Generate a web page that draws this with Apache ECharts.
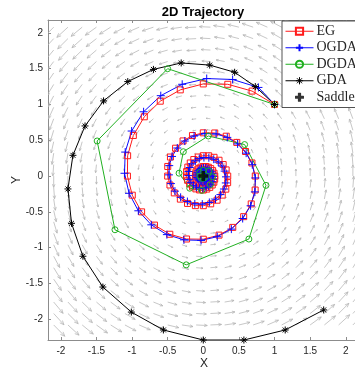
<!DOCTYPE html>
<html>
<head>
<meta charset="utf-8">
<script src="https://cdn.jsdelivr.net/npm/echarts@6/dist/echarts.min.js"></script>
<style>
html, body { margin: 0; padding: 0; background: #fff; }
#chart { width: 355px; height: 371px; }
</style>
</head>
<body>
<div id="chart"></div>
<script>
// tick labels on both axes
const ticks = [-2, -1.5, -1, -0.5, 0, 0.5, 1, 1.5, 2];

// trajectories (x, y)
const egPts = [
  [1, 1], [0.685, 1.187], [0.344, 1.282], [0, 1.287], [-0.323, 1.204], [-0.604, 1.046],
  [-0.828, 0.828], [-0.982, 0.567], [-1.062, 0.284], [-1.065, 0], [-0.997, -0.267], [-0.866, -0.5],
  [-0.685, -0.685], [-0.47, -0.813], [-0.235, -0.879], [0, -0.882], [0.221, -0.825], [0.414, -0.717],
  [0.567, -0.567], [0.673, -0.389], [0.728, -0.195], [0.73, 0], [0.683, 0.183], [0.593, 0.343],
  [0.47, 0.47], [0.322, 0.557], [0.161, 0.602], [0, 0.604], [-0.152, 0.566], [-0.284, 0.491],
  [-0.389, 0.389], [-0.461, 0.266], [-0.499, 0.134], [-0.5, 0], [-0.468, -0.125], [-0.407, -0.235],
  [-0.322, -0.322], [-0.221, -0.382], [-0.111, -0.413], [0, -0.414], [0.104, -0.388], [0.194, -0.337],
  [0.266, -0.266], [0.316, -0.183], [0.342, -0.092], [0.343, 0], [0.321, 0.086], [0.279, 0.161],
  [0.221, 0.221], [0.151, 0.262], [0.076, 0.283], [0, 0.284], [-0.071, 0.266], [-0.133, 0.231],
  [-0.183, 0.183], [-0.217, 0.125], [-0.234, 0.063], [-0.235, 0], [-0.22, -0.059], [-0.191, -0.11],
  [-0.151, -0.151], [-0.104, -0.179], [-0.052, -0.194], [0, -0.195], [0.049, -0.182], [0.091, -0.158],
  [0.125, -0.125], [0.148, -0.086], [0.16, -0.043], [0.161, 0], [0.151, 0.04], [0.131, 0.076],
  [0.104, 0.104], [0.071, 0.123], [0.036, 0.133], [0, 0.133], [-0.033, 0.125], [-0.063, 0.108],
  [-0.086, 0.086], [-0.102, 0.059], [-0.11, 0.029], [-0.11, 0], [-0.103, -0.028], [-0.09, -0.052],
  [-0.071, -0.071], [-0.049, -0.084], [-0.024, -0.091], [0, -0.091], [0.023, -0.085], [0.043, -0.074],
  [0.059, -0.059], [0.07, -0.04], [0.075, -0.02], [0.076, 0], [0.071, 0.019], [0.061, 0.036],
  [0.049, 0.049], [0.033, 0.058], [0.017, 0.062], [0, 0.063], [-0.016, 0.059]
];

const ogdaPts = [
  [1, 1], [0.774, 1.238], [0.412, 1.349], [0.048, 1.362], [-0.296, 1.282], [-0.597, 1.123],
  [-0.838, 0.898], [-1.006, 0.629], [-1.096, 0.335], [-1.106, 0.039], [-1.042, -0.241], [-0.912, -0.485],
  [-0.73, -0.681], [-0.511, -0.818], [-0.272, -0.891], [-0.031, -0.899], [0.196, -0.847], [0.394, -0.741],
  [0.553, -0.593], [0.664, -0.415], [0.724, -0.221], [0.731, -0.026], [0.688, 0.159], [0.602, 0.32],
  [0.482, 0.449], [0.337, 0.54], [0.18, 0.588], [0.021, 0.594], [-0.129, 0.559], [-0.26, 0.489],
  [-0.365, 0.392], [-0.439, 0.274], [-0.478, 0.146], [-0.482, 0.017], [-0.454, -0.105], [-0.398, -0.211],
  [-0.318, -0.297], [-0.223, -0.356], [-0.119, -0.388], [-0.014, -0.392], [0.085, -0.369], [0.172, -0.323],
  [0.241, -0.259], [0.29, -0.181], [0.316, -0.096], [0.319, -0.011], [0.3, 0.069], [0.263, 0.14],
  [0.21, 0.196], [0.147, 0.235], [0.078, 0.256], [0.009, 0.259], [-0.056, 0.244], [-0.113, 0.213],
  [-0.159, 0.171], [-0.191, 0.119], [-0.208, 0.064], [-0.21, 0.007], [-0.198, -0.046], [-0.173, -0.092],
  [-0.139, -0.129], [-0.097, -0.155], [-0.052, -0.169], [-0.006, -0.171], [0.037, -0.161], [0.075, -0.141],
  [0.105, -0.113], [0.126, -0.079], [0.138, -0.042], [0.139, -0.005], [0.131, 0.03], [0.115, 0.061],
  [0.092, 0.085], [0.064, 0.103], [0.034, 0.112], [0.004, 0.113], [-0.025, 0.106], [-0.049, 0.093],
  [-0.069, 0.074], [-0.083, 0.052], [-0.091, 0.028], [-0.092, 0.003], [-0.086, -0.02], [-0.076, -0.04],
  [-0.06, -0.056], [-0.042, -0.068], [-0.023, -0.074], [-0.003, -0.074], [0.016, -0.07], [0.033, -0.061],
  [0.046, -0.049], [0.055, -0.034], [0.06, -0.018], [0.061, -0.002], [0.057, 0.013], [0.05, 0.027],
  [0.04, 0.037], [0.028, 0.045], [0.015, 0.049], [0.002, 0.049], [-0.011, 0.046]
];

const dgdaPts = [
  [1, 1], [-0.5, 1.5], [-1.49, 0.49], [-1.24, -0.75], [-0.24, -1.24], [0.64, -0.88],
  [0.88, -0.13], [0.58, 0.44], [0.07, 0.56], [-0.28, 0.34], [-0.34, 0.04], [-0.19, -0.17],
  [-0.02, -0.2], [0.1, -0.12], [0.13, -0.01], [0.08, 0.07], [0, 0.08], [-0.05, 0.05],
  [-0.05, 0], [-0.03, -0.03], [0, -0.03], [0.02, -0.02]
];

const gdaPts = [
  [1, 1], [0.73, 1.25], [0.44, 1.45], [0.09, 1.55], [-0.31, 1.58], [-0.7, 1.49],
  [-1.06, 1.32], [-1.4, 1.05], [-1.66, 0.7], [-1.83, 0.29], [-1.9, -0.18], [-1.85, -0.66],
  [-1.69, -1.12], [-1.41, -1.55], [-1.01, -1.9], [-0.56, -2.15], [0, -2.29], [0.57, -2.29],
  [1.15, -2.15], [1.69, -1.87]
];

const saddlePt = [[0, 0]];

// quiver grid of the background field
const quiverX = [-2.1, -1.9, -1.7, -1.5, -1.3, -1.1, -0.9, -0.7, -0.5, -0.3, -0.1,
  0.1, 0.3, 0.5, 0.7, 0.9, 1.1, 1.3, 1.5, 1.7, 1.9, 2.1];
const quiverY = [-2.08, -1.92, -1.76, -1.6, -1.44, -1.28, -1.12, -0.96, -0.8, -0.64, -0.48, -0.32, -0.16,
  0, 0.16, 0.32, 0.48, 0.64, 0.8, 0.96, 1.12, 1.28, 1.44, 1.6, 1.76, 1.92, 2.08];
const qScale = 0.075;

const quiverData = [];
quiverX.forEach((x) => {
  quiverY.forEach((y) => {
    quiverData.push([x, y, -y, x]); // field of the bilinear game
  });
});

const plusPath = 'path://M5,0L5,10M0,5L10,5';
const starPath = 'path://M5,0L5,10M0,5L10,5M1.5,1.5L8.5,8.5M8.5,1.5L1.5,8.5';
const crossPath = 'path://M3.2,0.6Q3.2,0,3.8,0L6.2,0Q6.8,0,6.8,0.6L6.8,3.2L9.4,3.2Q10,3.2,10,3.8L10,6.2Q10,6.8,9.4,6.8L6.8,6.8L6.8,9.4Q6.8,10,6.2,10L3.8,10Q3.2,10,3.2,9.4L3.2,6.8L0.6,6.8Q0,6.8,0,6.2L0,3.8Q0,3.2,0.6,3.2L3.2,3.2Z';

function renderArrow(params, api) {
  const x = api.value(0);
  const y = api.value(1);
  const p0 = api.coord([x, y]);
  const p1 = api.coord([x + api.value(2) * qScale, y + api.value(3) * qScale]);
  const dx = p1[0] - p0[0];
  const dy = p1[1] - p0[1];
  const len = Math.hypot(dx, dy);
  if (len < 0.6) return null;
  const ang = Math.atan2(dy, dx);
  const h = len * 0.3;
  const a = 0.4;
  const l = [p1[0] - h * Math.cos(ang - a), p1[1] - h * Math.sin(ang - a)];
  const r = [p1[0] - h * Math.cos(ang + a), p1[1] - h * Math.sin(ang + a)];
  const st = { stroke: '#b4b4b4', lineWidth: 0.75, fill: null };
  return {
    type: 'group',
    children: [
      { type: 'line', shape: { x1: p0[0], y1: p0[1], x2: p1[0], y2: p1[1] }, style: st },
      { type: 'polyline', shape: { points: [l, p1, r] }, style: st },
    ],
  };
}

function traj(name, data, color, symbol, size) {
  return {
    name,
    type: 'line',
    data,
    symbol,
    symbolSize: size,
    showAllSymbol: true,
    lineStyle: { color, width: 1 },
    itemStyle: { color: 'rgba(0,0,0,0)', borderColor: color, borderWidth: 1 },
    emphasis: { disabled: true },
    z: 3,
  };
}

const axisFont = { fontFamily: 'Liberation Sans', fontSize: 10, color: '#262626' };
const frameLine = { onZero: false, lineStyle: { color: '#8c8c8c', width: 1 } };
const frameTick = { inside: true, length: 3, customValues: ticks, lineStyle: { color: '#8c8c8c' } };
const nameFont = { fontFamily: 'Liberation Sans', fontSize: 12, color: '#262626' };

const myChart = echarts.init(document.getElementById('chart'));
myChart.setOption({
  animation: false,
  title: {
    text: '2D Trajectory',
    left: 198,
    textAlign: 'center',
    top: 1,
    textStyle: { fontFamily: 'Liberation Sans', fontSize: 13, fontWeight: 'bold', color: '#000' },
  },
  legend: {
    orient: 'vertical',
    left: 282,
    top: 21,
    padding: [3, 30, 3, 3],
    itemGap: 2,
    itemWidth: 28,
    itemHeight: 9,
    backgroundColor: '#fff',
    borderColor: '#262626',
    borderWidth: 0.8,
    lineStyle: { width: 1 },
    textStyle: { fontFamily: 'Liberation Serif', fontSize: 14, lineHeight: 14.5, color: '#262626', padding: [0, 0, 0, -2] },
    data: [
      { name: 'EG' },
      { name: 'OGDA' },
      { name: 'DGDA' },
      { name: 'GDA', itemStyle: { color: '#fff', borderColor: '#000', borderWidth: 1 } },
      { name: 'Saddle' },
    ],
  },
  grid: { left: 48, top: 20, right: -5, bottom: 31, outerBoundsMode: 'none', containLabel: false },
  xAxis: [
    {
      type: 'value',
      min: -2.18,
      max: 2.2,
      name: 'X',
      nameLocation: 'middle',
      nameGap: 18,
      nameMoveOverlap: false,
      nameTextStyle: nameFont,
      axisLine: frameLine,
      axisTick: frameTick,
      axisLabel: { customValues: ticks, margin: 6, ...axisFont },
      splitLine: { show: false },
    },
    {
      type: 'value',
      position: 'top',
      min: -2.18,
      max: 2.2,
      axisLine: frameLine,
      axisTick: frameTick,
      axisLabel: { show: false },
      splitLine: { show: false },
    },
  ],
  yAxis: {
    type: 'value',
    min: -2.29,
    max: 2.18,
    name: 'Y',
    nameLocation: 'middle',
    nameRotate: 90,
    nameGap: 25,
    nameMoveOverlap: false,
    nameTextStyle: nameFont,
    axisLine: { show: true, ...frameLine },
    axisTick: { show: true, ...frameTick },
    axisLabel: { customValues: ticks, margin: 5, ...axisFont },
    splitLine: { show: false },
  },
  series: [
    {
      type: 'custom',
      renderItem: renderArrow,
      data: quiverData,
      encode: { x: 0, y: 1 },
      clip: true,
      silent: true,
      z: 1,
    },
    traj('EG', egPts, '#ff1a1a', 'rect', 6),
    traj('OGDA', ogdaPts, '#0a0aff', plusPath, 8),
    traj('DGDA', dgdaPts, '#21b021', 'circle', 6),
    traj('GDA', gdaPts, '#000000', starPath, 7),
    {
      name: 'Saddle',
      type: 'scatter',
      data: saddlePt,
      symbol: crossPath,
      symbolSize: 10,
      itemStyle: { color: '#000' },
      z: 4,
    },
  ],
});
</script>
</body>
</html>
